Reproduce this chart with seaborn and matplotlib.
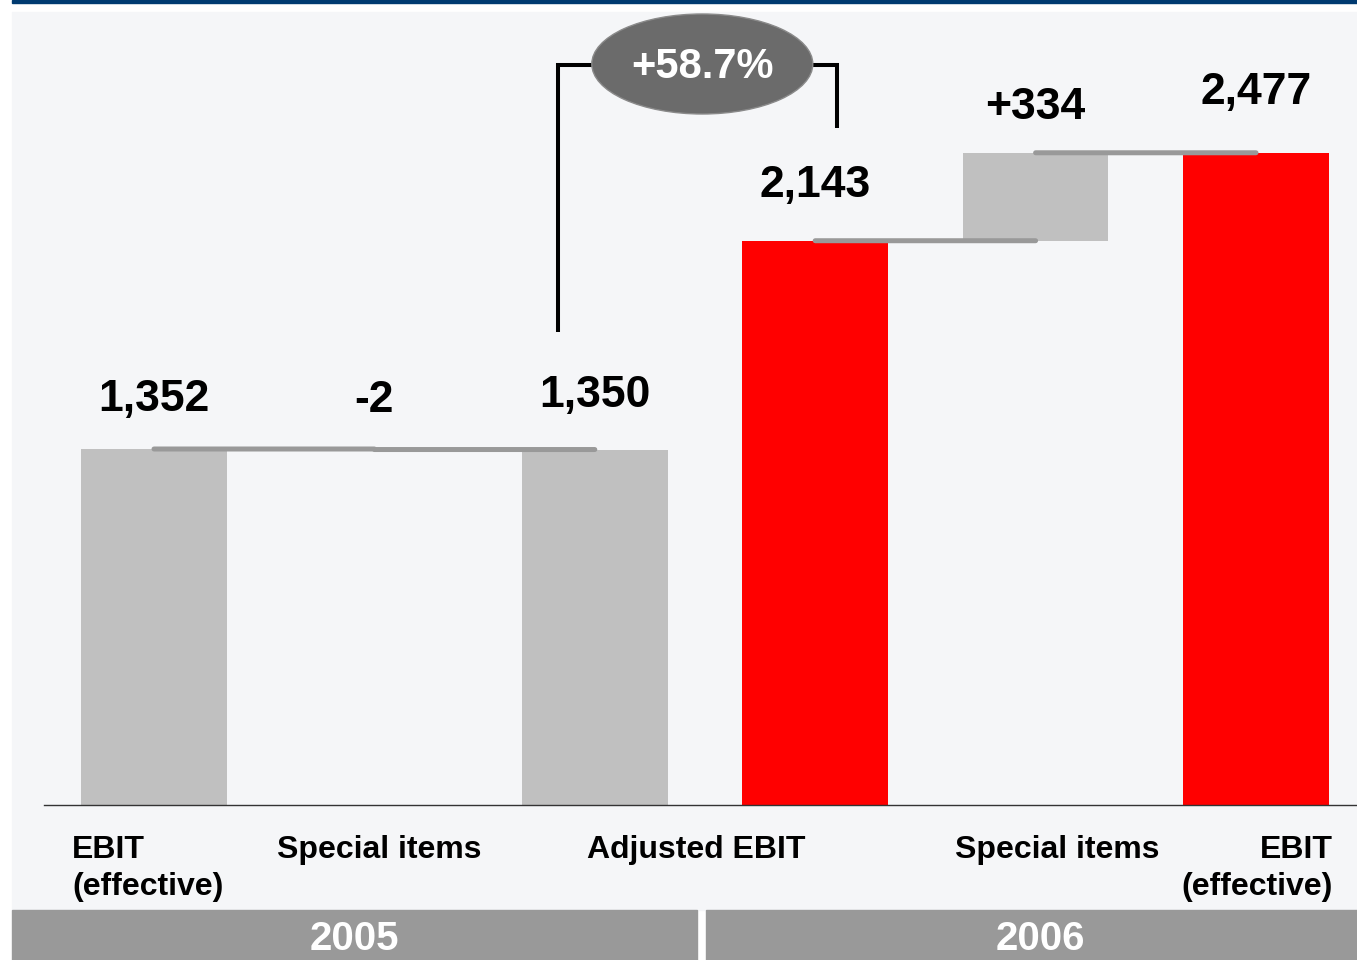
import numpy as np
import pandas as pd
import matplotlib
matplotlib.use("Agg")
import matplotlib.pyplot as plt
from matplotlib.patches import Rectangle, Ellipse
from matplotlib.transforms import blended_transform_factory
import seaborn as sns

# EBIT bridge: reported 2005 -> adjusted 2005 | adjusted 2006 -> reported 2006 (EUR m)
steps = ["EBIT 2005", "Special items 2005", "Adjusted EBIT 2005",
         "Adjusted EBIT 2006", "Special items 2006", "EBIT 2006"]
step_values = [1352, -2, 1350, 2143, 334, 2477]
step_kinds = ["total", "delta", "total", "total", "delta", "total"]
step_colors = ["#c0c0c0", "#c0c0c0", "#c0c0c0", "#ff0000", "#c0c0c0", "#ff0000"]

category_labels = ["EBIT\n(effective)", "Special items", "Adjusted EBIT",
                   "Special items", "EBIT\n(effective)"]
years = ["2005", "2006"]

# ---- waterfall geometry from the step values
bottoms, heights = [], []
running = 0
for v, k in zip(step_values, step_kinds):
    if k == "total":
        bottoms.append(0)
        running = v
    else:
        bottoms.append(running)
        running += v
    heights.append(v)

df = pd.DataFrame({"step": steps, "height": heights, "bottom": bottoms})

growth = step_values[3] / step_values[2] - 1

# ---- figure
W, H = 1357, 960
sns.set_style("white")
plt.rcParams["font.family"] = ["Liberation Sans", "DejaVu Sans"]
fig = plt.figure(figsize=(W / 100, H / 100), dpi=100)
fig.patch.set_facecolor("white")


def fx(px):
    return px / W


def fy(py):
    return 1 - py / H


# background panel, header rule and year bands
fig.patches.append(Rectangle((fx(12), fy(910)), fx(1357) - fx(12), (910 - 12) / H,
                             transform=fig.transFigure, color="#f5f6f8", zorder=-2))
fig.patches.append(Rectangle((fx(12), fy(3)), fx(1357) - fx(12), 3 / H,
                             transform=fig.transFigure, color="#003a70", zorder=-1))
band_spans = [(12, 697), (706, 1357)]
year_x = [354, 1040]
for (x0, x1), yr, xt in zip(band_spans, years, year_x):
    fig.patches.append(Rectangle((fx(x0), 0), fx(x1) - fx(x0), 50 / H,
                                 transform=fig.transFigure, color="#999999", zorder=-1))
    fig.text(fx(xt), fy(950), yr, ha="center", va="baseline", color="white",
             fontsize=29, fontweight="bold")

# plotting area
px_per_unit = 356 / 1352
bar_step_px = 220.4
ax = fig.add_axes([fx(44), fy(805), fx(1357) - fx(44), fy(12) - fy(805)])
ax.set_facecolor("none")

sns.barplot(data=df, x="step", y="height", order=steps,
            bottom=df["bottom"].to_numpy(), width=0.66, linewidth=0,
            color="#c0c0c0", saturation=1, errorbar=None, ax=ax)
for patch, c in zip(ax.patches, step_colors):
    patch.set_facecolor(c)
    patch.set_edgecolor("none")

ax.set_xlim(-(154 - 44) / bar_step_px, (1357 - 154) / bar_step_px)
ax.set_ylim(0, (805 - 12) / px_per_unit)
ax.set_xlabel("")
ax.set_ylabel("")
ax.set_xticks([])
ax.set_yticks([])
for side in ["top", "right", "left"]:
    ax.spines[side].set_visible(False)
ax.spines["bottom"].set_color("#333333")
ax.spines["bottom"].set_linewidth(1.0)

# connectors between consecutive levels
conn_kw = dict(color="#999999", lw=3.6, solid_capstyle="round", zorder=4, snap=False)
for i, k in enumerate(step_kinds):
    if k == "delta":
        ax.plot([i - 1, i], [bottoms[i], bottoms[i]], **conn_kw)
        top = bottoms[i] + heights[i]
        ax.plot([i, i + 1], [top, top], **conn_kw)

# value labels
label_offset_px = [49, 49, 54, 55, 45, 60]
for i, (v, k) in enumerate(zip(step_values, step_kinds)):
    top = max(bottoms[i], bottoms[i] + heights[i])
    txt = f"{v:,}" if k == "total" else f"{v:+,}"
    ax.annotate(txt, xy=(i, top), xytext=(0, label_offset_px[i] * 0.72),
                textcoords="offset points", ha="center", va="center",
                fontsize=32, fontweight="bold", color="black", zorder=6)

# growth bracket between adjusted EBIT 2005 and 2006
y_top = (805 - 65) / px_per_unit
left_x, right_x = 2 - 37 / bar_step_px, 3 + 22 / bar_step_px
ax.plot([left_x, left_x, right_x, right_x],
        [step_values[2] + 446, y_top, y_top, step_values[3] + 428],
        color="black", lw=2.9, solid_joinstyle="miter", solid_capstyle="butt",
        zorder=5)
ell_x = 2 + (702.5 - 595) / bar_step_px
ell_y = (805 - 64) / px_per_unit
ax.add_patch(Ellipse((ell_x, ell_y), 221 / bar_step_px, 100 / px_per_unit,
                     facecolor="#6b6b6b", edgecolor="#8a8a8a", lw=1.0, zorder=6,
                     clip_on=False))
ax.text(ell_x, ell_y - 3 / px_per_unit, f"{growth:+.1%}", ha="center", va="center",
        color="white", fontsize=30, fontweight="bold", zorder=7)

# category labels below the baseline
trans = blended_transform_factory(ax.transData, fig.transFigure)
cat_x_px = [72, 379, 696, 1057, 1333]
cat_ha = ["left", "center", "center", "center", "right"]
for lab, xp, ha in zip(category_labels, cat_x_px, cat_ha):
    ax.text((xp - 154) / bar_step_px, fy(835), lab, transform=trans, ha=ha,
            va="top", multialignment=ha, fontsize=23, fontweight="bold",
            color="black", linespacing=1.32, clip_on=False)

fig.savefig("out.png", dpi=100)
